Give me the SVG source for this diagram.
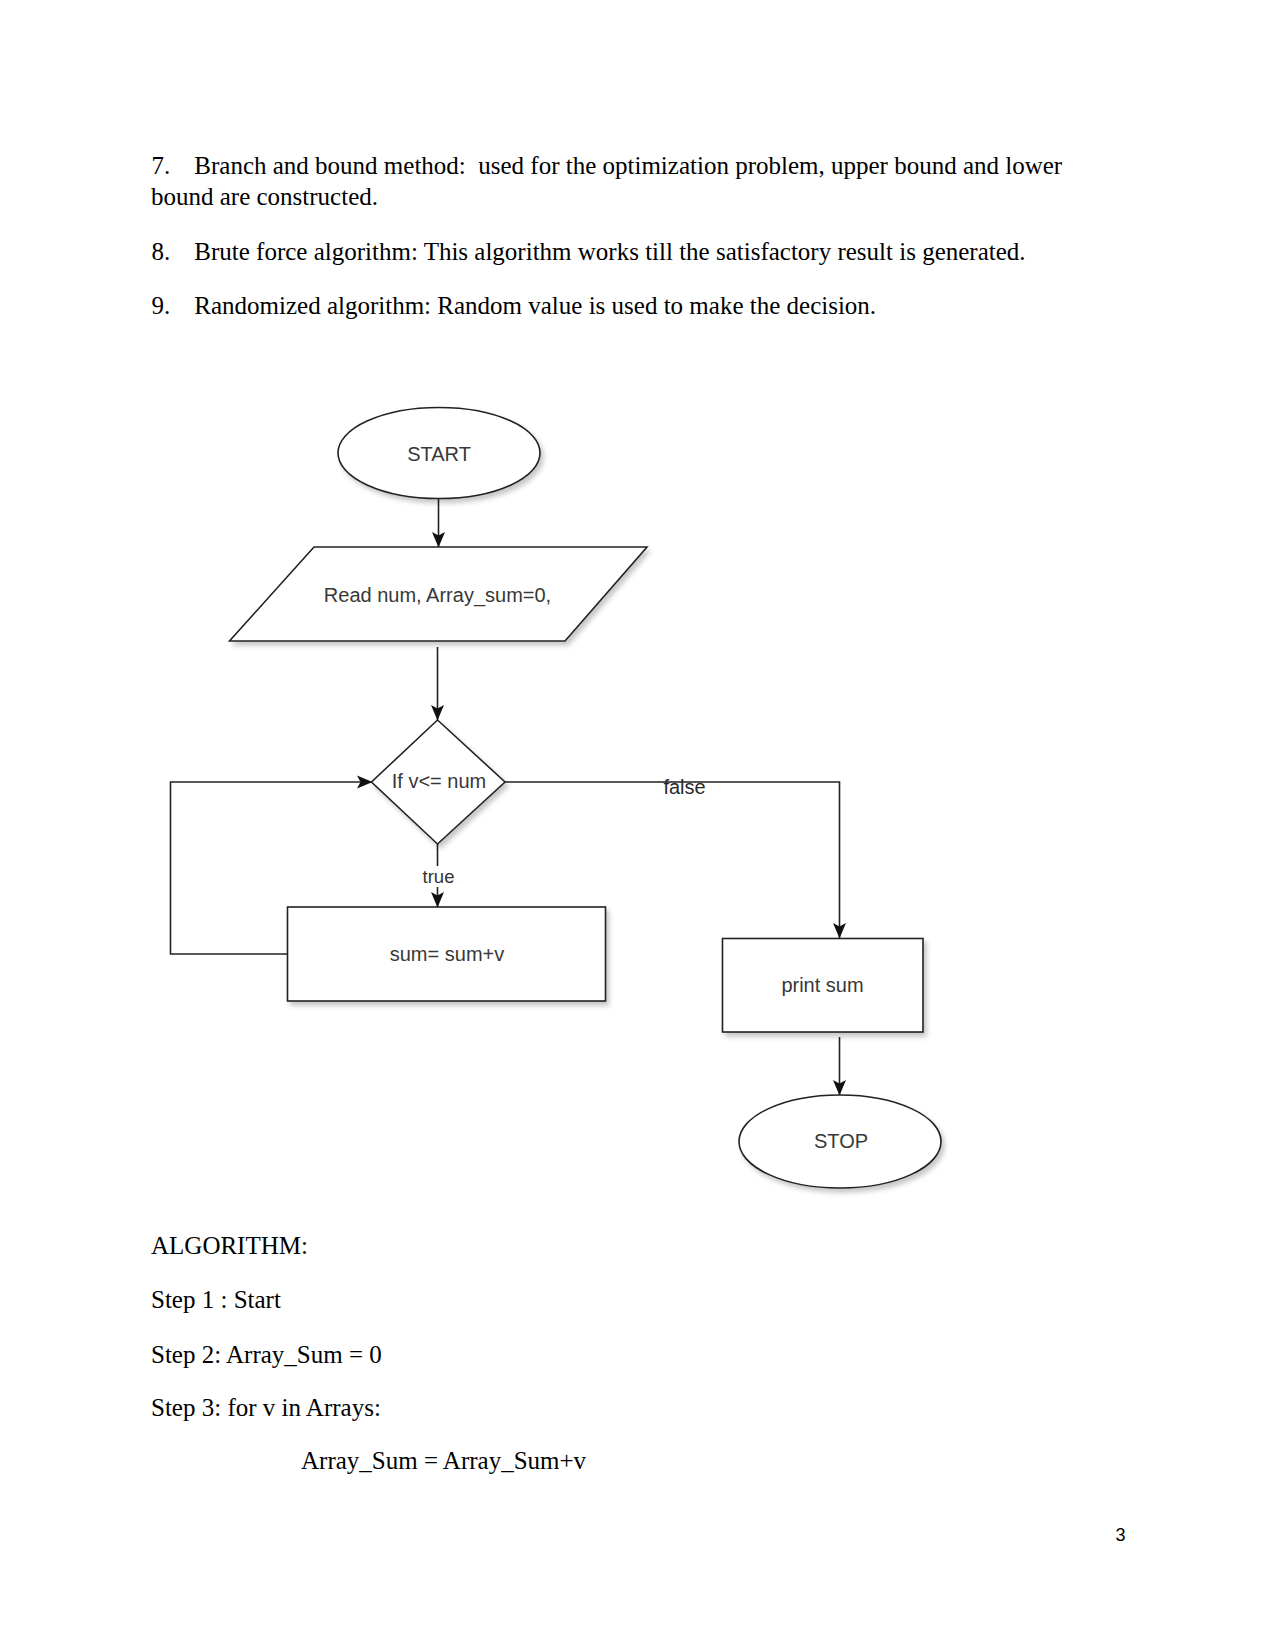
<svg xmlns="http://www.w3.org/2000/svg" width="1275" height="1651" viewBox="0 0 1275 1651">
<style>
.doc{font-family:"Liberation Serif","Times New Roman",serif;font-size:25px;fill:#000}
.lbl{font-family:"Liberation Sans",Arial,sans-serif;font-size:20px;fill:#383838;text-anchor:middle}
.edge{font-family:"Liberation Sans",Arial,sans-serif;font-size:18.5px;fill:#333;text-anchor:middle}
.shape{fill:#fff;stroke:#222;stroke-width:1.6}
.conn{fill:none;stroke:#222;stroke-width:1.6}
</style>
<defs>
<filter id="sh" x="-10%" y="-10%" width="130%" height="140%">
<feDropShadow dx="3" dy="4" stdDeviation="2.5" flood-color="#000" flood-opacity="0.22"/>
</filter>
<marker id="arr" markerWidth="16" markerHeight="14" refX="15" refY="7" orient="auto" markerUnits="userSpaceOnUse" viewBox="0 0 16 14">
<path d="M0,0.5 L15.5,7 L0,13.5 L3.5,7 Z" fill="#111"/>
</marker>
</defs>
<rect width="1275" height="1651" fill="#fff"/>

<g id="text-top">
<text class="doc" x="151.5" y="173.5">7.</text>
<text class="doc" x="194.3" y="173.5" xml:space="preserve">Branch and bound method:  used for the optimization problem, upper bound and lower</text>
<text class="doc" x="151" y="205">bound are constructed.</text>
<text class="doc" x="151.5" y="260">8.</text>
<text class="doc" x="194.3" y="260">Brute force algorithm: This algorithm works till the satisfactory result is generated.</text>
<text class="doc" x="151.5" y="314">9.</text>
<text class="doc" x="194.3" y="314">Randomized algorithm: Random value is used to make the decision.</text>
</g>

<g id="connectors">
<line class="conn" x1="438.5" y1="499" x2="438.5" y2="547" marker-end="url(#arr)"/>
<line class="conn" x1="437.5" y1="647" x2="437.5" y2="720" marker-end="url(#arr)"/>
<polyline class="conn" points="287,954 170.5,954 170.5,782 372,782" marker-end="url(#arr)"/>
<line class="conn" x1="437.5" y1="844" x2="437.5" y2="907" marker-end="url(#arr)"/>
<polyline class="conn" points="505,782 839.5,782 839.5,938" marker-end="url(#arr)"/>
<line class="conn" x1="839.5" y1="1037" x2="839.5" y2="1095" marker-end="url(#arr)"/>
<g id="label-true">
<rect x="421" y="866" width="35" height="21" fill="#fff"/>
<text class="edge" x="438.5" y="883">true</text>
</g>
<g id="label-false">
<text class="edge" x="684.5" y="794" style="font-size:20px;fill:#2a2a2a">false</text>
</g>
</g>

<g id="node-start">
<ellipse class="shape" filter="url(#sh)" cx="439" cy="453" rx="101" ry="45.5"/>
<text class="lbl" x="439" y="460.5">START</text>
</g>

<g id="node-read">
<polygon class="shape" filter="url(#sh)" points="314,547 647,547 565,641 229.5,641"/>
<text class="lbl" x="437.5" y="601.5">Read num, Array_sum=0,</text>
</g>

<g id="node-decision">
<polygon class="shape" filter="url(#sh)" points="437.5,720 505,782 437.5,844 371.5,782"/>
<text class="lbl" x="439" y="788">If v&lt;= num</text>
</g>

<g id="node-sum">
<rect class="shape" filter="url(#sh)" x="287.5" y="907" width="318" height="94"/>
<text class="lbl" x="447" y="961">sum= sum+v</text>
</g>

<g id="node-print">
<rect class="shape" filter="url(#sh)" x="722.5" y="938.5" width="200.5" height="93.5"/>
<text class="lbl" x="822.5" y="992">print sum</text>
</g>

<g id="node-stop">
<ellipse class="shape" filter="url(#sh)" cx="840" cy="1141.5" rx="101" ry="46.5"/>
<text class="lbl" x="841" y="1148">STOP</text>
</g>

<g id="text-bottom">
<text class="doc" x="151" y="1254">ALGORITHM:</text>
<text class="doc" x="151" y="1308">Step 1 : Start</text>
<text class="doc" x="151" y="1363">Step 2: Array_Sum = 0</text>
<text class="doc" x="151" y="1416">Step 3: for v in Arrays:</text>
<text class="doc" x="301" y="1469">Array_Sum = Array_Sum+v</text>
<text x="1120.5" y="1541" style="font-family:'Liberation Sans',Arial,sans-serif;font-size:18px;fill:#000;text-anchor:middle">3</text>
</g>
</svg>
